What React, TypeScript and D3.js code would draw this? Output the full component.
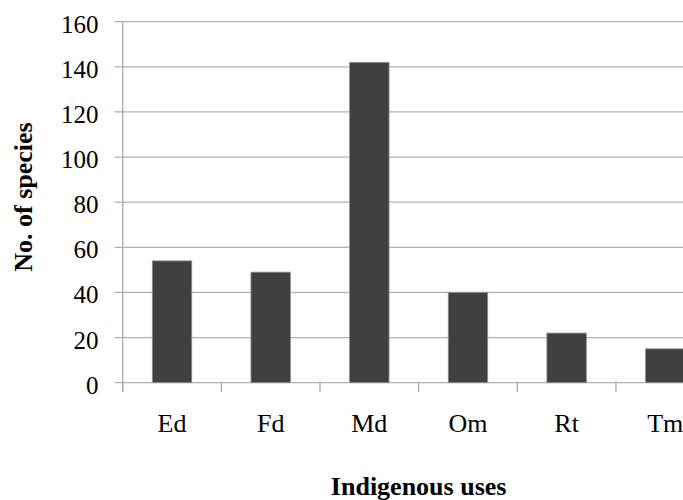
import React from "react";
import * as d3 from "d3";

const categories: string[] = ["Ed", "Fd", "Md", "Om", "Rt", "Tm"];
const values: number[] = [54, 49, 142, 40, 22, 15];
const yTicks: number[] = [0, 20, 40, 60, 80, 100, 120, 140, 160];
const xTitle = "Indigenous uses";
const yTitle = "No. of species";

const W = 683;
const H = 500;
const left = 122.7;
const right = 714.6;
const top = 21.7;
const bottom = 382.7;
const FONT = "'Liberation Serif', 'Times New Roman', serif";

export default function App() {
  const x = d3
    .scaleBand<string>()
    .domain(categories)
    .range([left, right])
    .paddingInner(0.6)
    .paddingOuter(0.3);
  const y = d3.scaleLinear().domain([0, 160]).range([bottom, top]);
  const step = x.step();
  const boundaries = d3.range(categories.length + 1).map((i) => left + i * step);

  return (
    <svg
      width={W}
      height={H}
      style={{ position: "absolute", left: 0, top: 0, background: "#fff" }}
      fontFamily={FONT}
    >
      {yTicks.map((t) => (
        <line
          key={"g" + t}
          x1={left - 8}
          x2={W + 40}
          y1={y(t)}
          y2={y(t)}
          stroke="#b0b0b0"
          strokeWidth={1.3}
        />
      ))}
      <line x1={left} x2={left} y1={top} y2={bottom + 9} stroke="#a8a8a8" strokeWidth={1.3} />
      {boundaries.map((b, i) => (
        <line key={"xt" + i} x1={b} x2={b} y1={bottom} y2={bottom + 9} stroke="#a8a8a8" strokeWidth={1.3} />
      ))}
      {categories.map((c, i) => (
        <rect
          key={c}
          x={x(c)}
          y={y(values[i])}
          width={x.bandwidth()}
          height={y(0) - y(values[i])}
          fill="#404040"
          stroke="#909090"
          strokeWidth={0.8}
        />
      ))}
      {yTicks.map((t) => (
        <text key={"yl" + t} x={98.5} y={y(t) + 11} textAnchor="end" fontSize={25} fill="#000">
          {t}
        </text>
      ))}
      {categories.map((c) => (
        <text
          key={"xl" + c}
          x={(x(c) as number) + x.bandwidth() / 2}
          y={432}
          textAnchor="middle"
          fontSize={26}
          fill="#000"
        >
          {c}
        </text>
      ))}
      <text
        x={(left + right) / 2}
        y={495}
        textAnchor="middle"
        fontSize={26}
        fontWeight="bold"
        fill="#000"
      >
        {xTitle}
      </text>
      <text
        transform={`translate(32, 197) rotate(-90)`}
        textAnchor="middle"
        fontSize={26}
        fontWeight="bold"
        fill="#000"
      >
        {yTitle}
      </text>
    </svg>
  );
}
